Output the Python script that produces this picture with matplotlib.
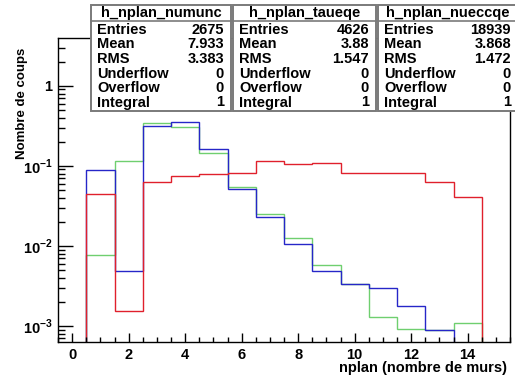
import numpy as np
import matplotlib
matplotlib.use("Agg")
import matplotlib.pyplot as plt
from matplotlib.patches import Rectangle
from matplotlib.lines import Line2D
from matplotlib.ticker import FixedLocator, FixedFormatter, MultipleLocator, LogLocator, NullFormatter

plt.rcParams['font.family'] = ['Liberation Sans', 'DejaVu Sans']
plt.rcParams['font.weight'] = 'bold'
plt.rcParams['mathtext.fontset'] = 'custom'
plt.rcParams['mathtext.rm'] = 'Liberation Sans:bold'
plt.rcParams['mathtext.bf'] = 'Liberation Sans:bold'

# bin edges: 16 bins centred on 0..15
edges = np.arange(-0.5, 16.0, 1.0)

# normalised histograms (integral = 1)
numunc = [0, 0.0448, 0.00152, 0.0625, 0.0743, 0.080, 0.082, 0.114,
          0.106, 0.107, 0.081, 0.082, 0.081, 0.0625, 0.041, 0]
taueqe = [0, 0.0077, 0.114, 0.343, 0.306, 0.145, 0.054, 0.0252,
          0.01245, 0.00578, 0.00336, 0.0013, 0.00091, 0.00089, 0.00108, 0]
nueccqe = [0, 0.088, 0.00487, 0.318, 0.349, 0.163, 0.052, 0.0229,
           0.0107, 0.00487, 0.00336, 0.00294, 0.00179, 0.00089, 0, 0]

# stat boxes
box_names = ['h_nplan_numunc', 'h_nplan_taueqe', 'h_nplan_nueccqe']
stat_labels = ['Entries', 'Mean', 'RMS', 'Underflow', 'Overflow', 'Integral']
stat_values = [['2675', '7.933', '3.383', '0', '0', '1'],
               ['4626', '3.88', '1.547', '0', '0', '1'],
               ['18939', '3.868', '1.472', '0', '0', '1']]

ytick_vals = [1e-3, 1e-2, 1e-1, 1]
ytick_labels = [r'$10^{-3}$', r'$10^{-2}$', r'$10^{-1}$', '1']

W, H = 515, 379
fig = plt.figure(figsize=(W / 100, H / 100), dpi=100)
ax = fig.add_axes([58 / W, 1 - 342 / H, (510 - 58) / W, (342 - 38) / H])

FLOOR = 1e-7
def draw(vals, col):
    v = np.asarray(vals, float)
    v = np.where(v > 0, v, FLOOR)
    ax.stairs(v, edges, baseline=FLOOR, color=col, lw=1.0)

draw(taueqe, '#6fcf6f')
draw(nueccqe, '#2626c8')
draw(numunc, '#e0202c')

ax.set_yscale('log')
ax.set_xlim(-0.5, 15.5)
ax.set_ylim(6.3e-4, 3.95)

ax.xaxis.set_major_locator(MultipleLocator(2))
ax.xaxis.set_minor_locator(MultipleLocator(0.5))
ax.yaxis.set_major_locator(FixedLocator(ytick_vals))
ax.yaxis.set_major_formatter(FixedFormatter(ytick_labels))
ax.yaxis.set_minor_locator(LogLocator(base=10, subs=np.arange(2, 10)))
ax.yaxis.set_minor_formatter(NullFormatter())

ax.tick_params(axis='x', which='major', direction='in', length=6.5, width=1, labelsize=10.5, pad=4)
ax.tick_params(axis='x', which='minor', direction='in', length=3.5, width=1)
ax.tick_params(axis='y', which='major', direction='in', length=10.5, width=1, labelsize=10.5, pad=4)
ax.tick_params(axis='y', which='minor', direction='in', length=5, width=1)
for s in ax.spines.values():
    s.set_linewidth(1.0)

fig.text(22 / W, 1 - 48 / H, 'Nombre de coups', rotation=90, ha='center', va='top',
         fontsize=9.5, fontweight='bold')
fig.text(507 / W, 1 - 368 / H, 'nplan (nombre de murs)', ha='right', va='center',
         fontsize=10.5, fontweight='bold')

# stat boxes along the top
box_x = [(91, 231), (233, 376), (378, 518)]
top, bot, head = 5, 111, 21
row_y = [29.5, 44.5, 59, 73.5, 88.5, 102.5]
for (x0, x1), name, vals in zip(box_x, box_names, stat_values):
    fig.add_artist(Rectangle((x0 / W, 1 - bot / H), (x1 - x0) / W, (bot - top) / H,
                             transform=fig.transFigure, facecolor='white',
                             edgecolor='#7a7a7a', lw=1.4, zorder=5))
    fig.add_artist(Line2D([x0 / W, x1 / W], [1 - head / H] * 2, transform=fig.transFigure,
                          color='#7a7a7a', lw=1.2, zorder=6))
    fig.text((x0 + x1) / 2 / W, 1 - 13.5 / H, name, ha='center', va='center',
             fontsize=10.5, fontweight='bold', zorder=7)
    for lab, val, y in zip(stat_labels, vals, row_y):
        fig.text((x0 + 6) / W, 1 - y / H, lab, ha='left', va='center',
                 fontsize=10.5, fontweight='bold', zorder=7)
        fig.text(min(x1 - 7, 514) / W, 1 - y / H, val, ha='right', va='center',
                 fontsize=10.5, fontweight='bold', zorder=7)

fig.savefig('out.png', dpi=100)
